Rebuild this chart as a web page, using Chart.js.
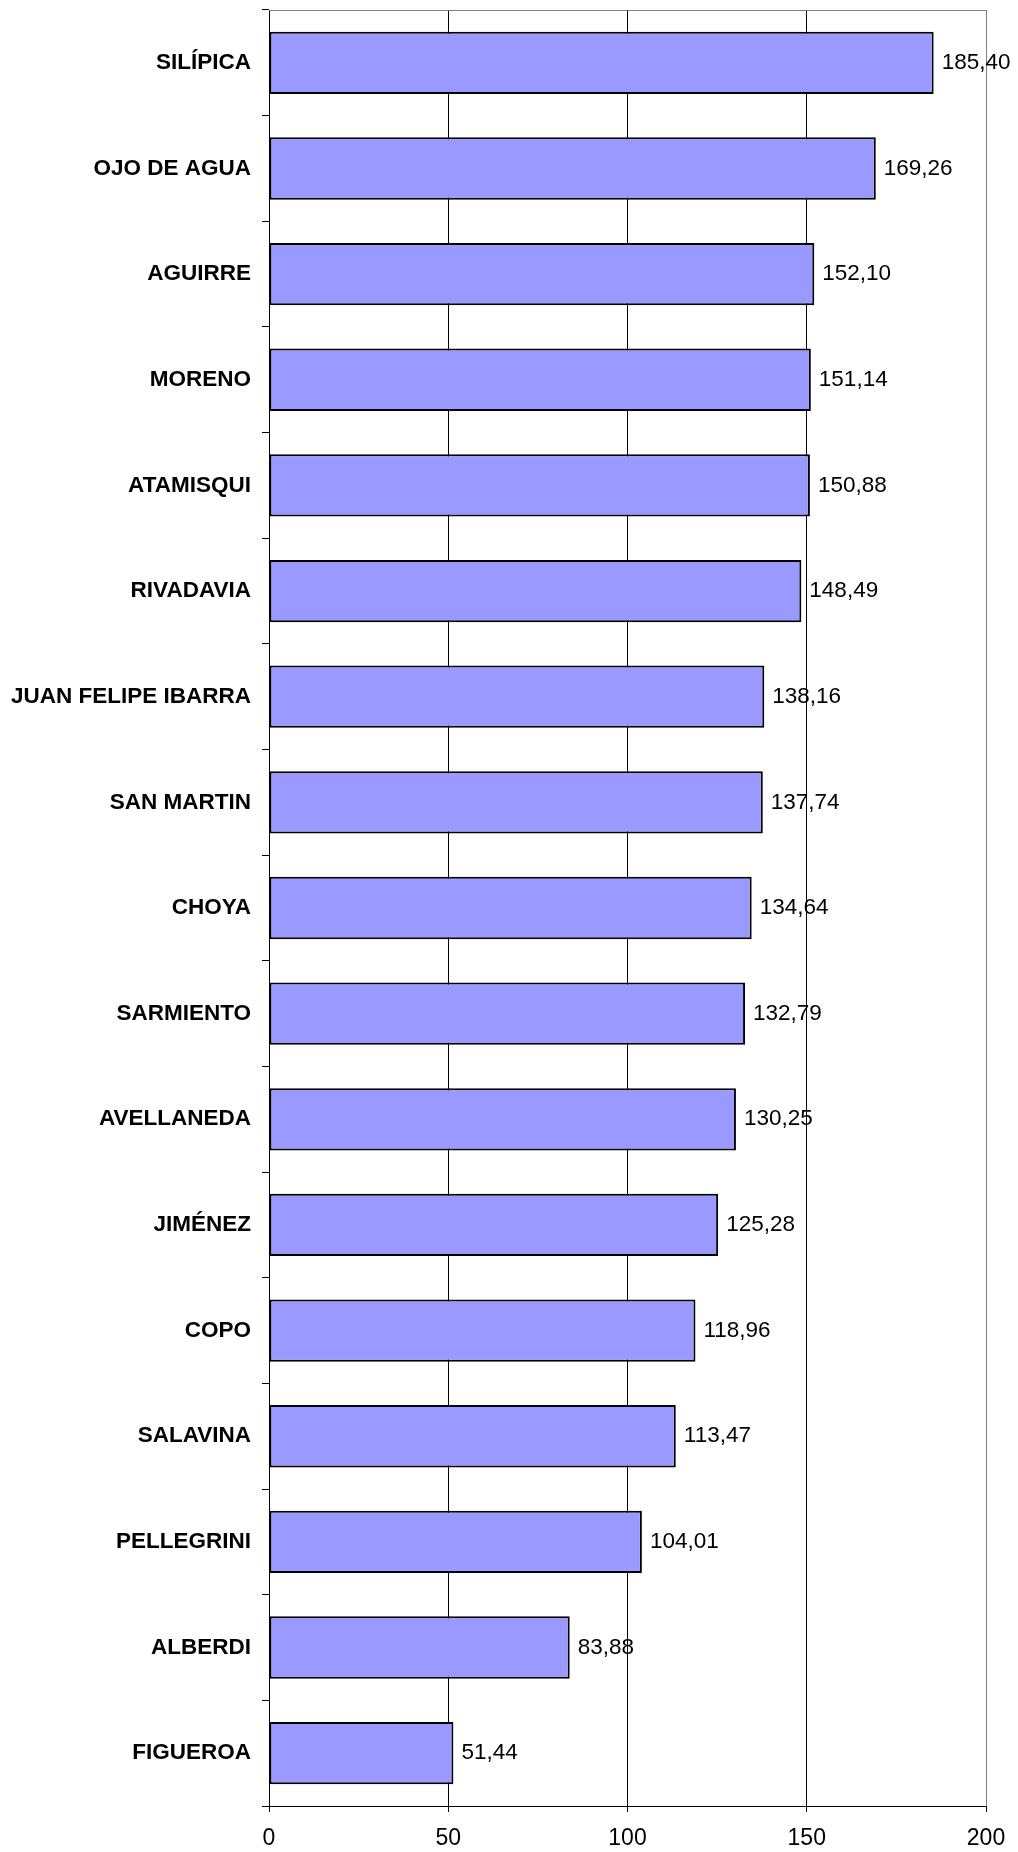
<!DOCTYPE html>
<html>
<head>
<meta charset="utf-8">
<script src="https://cdn.jsdelivr.net/npm/chart.js@4"></script>
<style>
  body { margin: 0; background: #fff; }
  canvas { display: block; }
</style>
</head>
<body>
<canvas id="chart" width="1018" height="1852"></canvas>
<script>
const departments = [
    "SILÍPICA", "OJO DE AGUA", "AGUIRRE", "MORENO", "ATAMISQUI",
    "RIVADAVIA", "JUAN FELIPE IBARRA", "SAN MARTIN", "CHOYA", "SARMIENTO",
    "AVELLANEDA", "JIMÉNEZ", "COPO", "SALAVINA", "PELLEGRINI",
    "ALBERDI", "FIGUEROA"
];
const values = [
    185.40, 169.26, 152.10, 151.14, 150.88,
    148.49, 138.16, 137.74, 134.64, 132.79,
    130.25, 125.28, 118.96, 113.47, 104.01,
    83.88, 51.44
];
const xTicks = [0, 50, 100, 150, 200];

const FONT = "'Liberation Sans', Arial, sans-serif";

// gray frame on top of the plot area
const framePlugin = {
    id: "frame",
    beforeDatasetsDraw(chart) {
        const a = chart.chartArea;
        const c = chart.ctx;
        c.save();
        c.strokeStyle = "#808080";
        c.lineWidth = 1;
        c.beginPath();
        c.moveTo(a.left, a.top + 0.5);
        c.lineTo(a.right, a.top + 0.5);
        c.stroke();
        c.restore();
    }
};

// value labels at the end of each bar
const valueLabels = {
    id: "valueLabels",
    afterDatasetsDraw(chart) {
        const c = chart.ctx;
        const meta = chart.getDatasetMeta(0);
        c.save();
        c.font = "22.5px " + FONT;
        c.fillStyle = "#000";
        c.textBaseline = "middle";
        c.textAlign = "left";
        meta.data.forEach((bar, i) => {
            const txt = values[i].toFixed(2).replace(".", ",");
            c.fillText(txt, bar.x + 8, bar.y);
        });
        c.restore();
    }
};

new Chart(document.getElementById("chart"), {
    type: "bar",
    data: {
        labels: departments,
        datasets: [{
            data: values,
            backgroundColor: "#9999FF",
            borderColor: "#000",
            borderWidth: 2,
            borderSkipped: false,
            categoryPercentage: 1,
            barPercentage: 0.59
        }]
    },
    options: {
        indexAxis: "y",
        responsive: false,
        animation: false,
        layout: { padding: { top: 10, right: 32, left: 0, bottom: 0 } },
        plugins: {
            legend: { display: false },
            tooltip: { enabled: false }
        },
        scales: {
            x: {
                min: 0,
                max: 200,
                afterBuildTicks(scale) {
                    scale.ticks = xTicks.map(v => ({ value: v }));
                },
                afterFit(scale) {
                    scale.height = 46;
                    scale.paddingLeft = 0;
                    scale.paddingRight = 0;
                },
                border: { color: "#000", width: 1 },
                grid: {
                    color: ctx => ctx.tick && ctx.tick.value === 0 ? "rgba(0,0,0,0)"
                        : (ctx.tick && ctx.tick.value === 200 ? "#808080" : "#000"),
                    tickColor: "#000",
                    tickLength: 6,
                    lineWidth: 1
                },
                ticks: {
                    color: "#000",
                    padding: 13,
                    maxRotation: 0,
                    font: { family: FONT, size: 23 }
                }
            },
            y: {
                afterFit(scale) {
                    scale.width = 269;
                    scale.paddingTop = 0;
                    scale.paddingBottom = 0;
                },
                border: { color: "#000", width: 1 },
                grid: {
                    drawOnChartArea: false,
                    tickColor: "#000",
                    tickLength: 7
                },
                ticks: {
                    color: "#000",
                    padding: 11,
                    font: { family: FONT, size: 22.5, weight: "bold" }
                }
            }
        }
    },
    plugins: [framePlugin, valueLabels]
});
</script>
</body>
</html>
